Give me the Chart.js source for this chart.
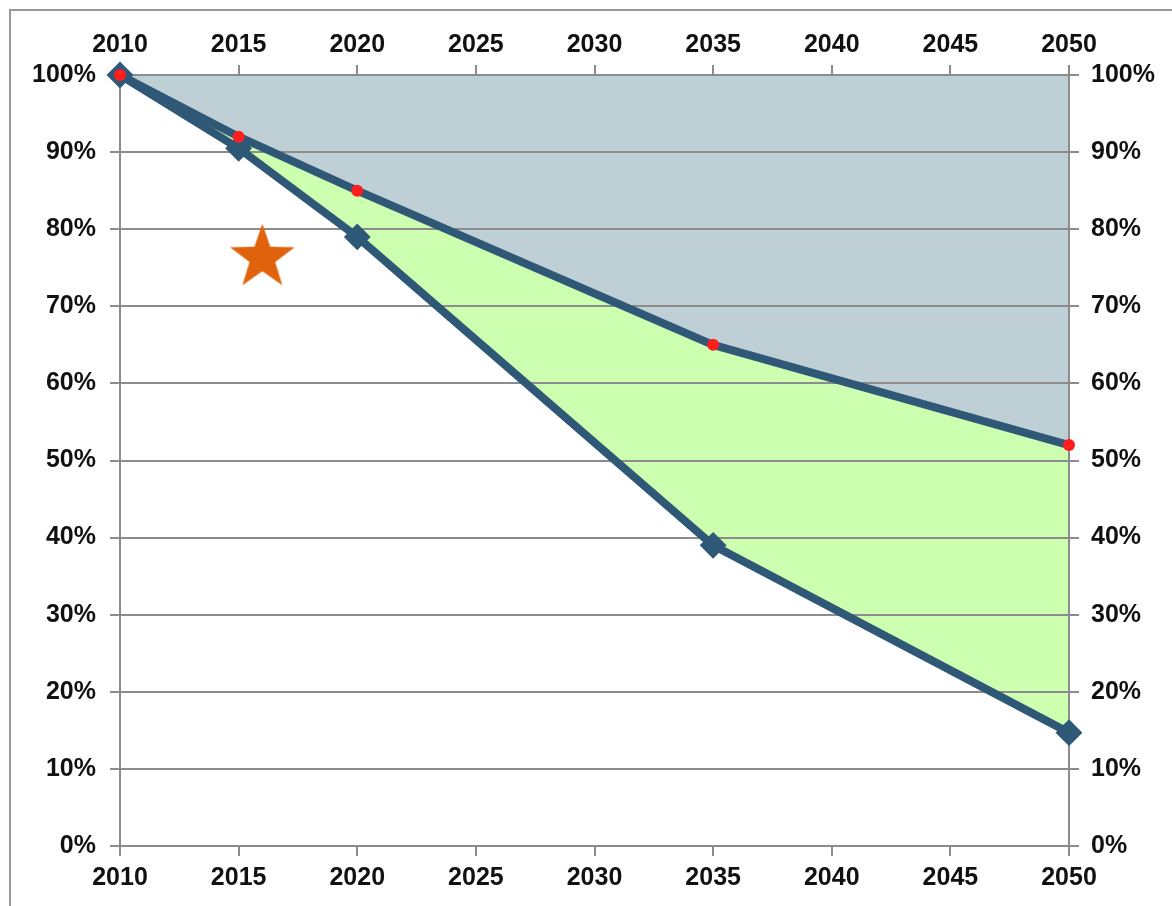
<!DOCTYPE html>
<html>
<head>
<meta charset="utf-8">
<script src="https://cdn.jsdelivr.net/npm/chart.js"></script>
<style>
    body { margin: 0; background: #fff; }
    #wrap { position: relative; width: 1172px; height: 906px; }
</style>
</head>
<body>
<div id="wrap"><canvas id="lineChart"></canvas></div>
<script>
//データ
var years = [2010, 2015, 2020, 2035, 2050];
var topValues = [100, 100, 100, 100, 100];
var upperValues = [100, 92, 85, 65, 52];
var lowerValues = [100, 90.5, 79, 39, 14.7];
var starX = [2016];
var starY = [76.3];
var yearTicks = [2010, 2015, 2020, 2025, 2030, 2035, 2040, 2045, 2050];

//点の配列を作る
function toPoints(xs, ys) {
    var pts = [];
    for (var i = 0; i < xs.length; i++) {
        pts.push({ x: xs[i], y: ys[i] });
    }
    return pts;
}

//星のマーカー
var star = document.createElement("canvas");
star.width = 72;
star.height = 72;
var sctx = star.getContext("2d");
sctx.beginPath();
for (var i = 0; i < 10; i++) {
    var r = i % 2 == 0 ? 34 : 13.5;
    var a = -Math.PI / 2 + i * Math.PI / 5;
    var px = 36 + r * Math.cos(a);
    var py = 36 + r * Math.sin(a);
    if (i == 0) sctx.moveTo(px, py); else sctx.lineTo(px, py);
}
sctx.closePath();
sctx.fillStyle = "#E0620A";
sctx.fill();

//外枠
var framePlugin = {
    id: "frame",
    beforeDraw: function (chart) {
        var c = chart.ctx;
        c.save();
        c.strokeStyle = "#999999";
        c.lineWidth = 2;
        c.beginPath();
        c.moveTo(10, 906);
        c.lineTo(10, 10);
        c.lineTo(1172, 10);
        c.stroke();
        c.restore();
    }
};

var tickFont = { family: "'Liberation Sans', Arial, sans-serif", size: 25, weight: "bold" };
var gridGray = "#8c8c8c";

function xAxis(pos, h, pad) {
    return {
        type: "linear",
        position: pos,
        min: 2010,
        max: 2050,
        afterBuildTicks: function (s) {
            s.ticks = yearTicks.map(function (v) { return { value: v }; });
        },
        afterFit: function (s) { s.height = h; },
        ticks: {
            color: "#111",
            font: tickFont,
            padding: pad,
            maxRotation: 0,
            autoSkip: false,
            callback: function (v) { return String(v); }
        },
        grid: { drawOnChartArea: false, drawTicks: true, tickLength: 10, color: gridGray, lineWidth: 2 },
        border: { display: true, color: gridGray, width: 2 }
    };
}

function yAxis(pos, w, onArea, pad) {
    return {
        type: "linear",
        position: pos,
        min: 0,
        max: 100,
        afterFit: function (s) { s.width = w; },
        ticks: {
            stepSize: 10,
            color: "#111",
            font: tickFont,
            padding: pad,
            callback: function (v) { return v + "%"; }
        },
        grid: { drawOnChartArea: onArea, drawTicks: true, tickLength: 10, color: gridGray, lineWidth: 2 },
        border: { display: true, color: gridGray, width: 2 }
    };
}

var ctx = document.getElementById("lineChart");
var myChart = new Chart(ctx, {
    type: "line",
    data: {
        datasets: [
            {
                data: toPoints(years, topValues),
                borderWidth: 0,
                borderColor: "rgba(0,0,0,0)",
                pointRadius: 0,
                fill: 1,
                backgroundColor: "#BECFD6",
                order: 4
            },
            {
                data: toPoints(years, upperValues),
                borderColor: "#2F5877",
                borderWidth: 8,
                pointRadius: 6,
                pointBorderWidth: 0,
                pointBackgroundColor: "#FF1E1E",
                fill: 2,
                backgroundColor: "#CCFFB0",
                clip: false,
                order: 2
            },
            {
                data: toPoints(years, lowerValues),
                borderColor: "#2F5877",
                borderWidth: 8,
                pointStyle: "rectRot",
                pointRadius: 12,
                pointBorderWidth: 2,
                pointBorderColor: "#2F5877",
                pointBackgroundColor: "#2F5877",
                fill: false,
                clip: false,
                order: 3
            },
            {
                type: "scatter",
                data: toPoints(starX, starY),
                pointStyle: star,
                pointRadius: 34,
                order: 1
            }
        ]
    },
    options: {
        responsive: true,
        maintainAspectRatio: false,
        animation: false,
        layout: { padding: 0 },
        elements: { line: { tension: 0 } },
        scales: {
            x: xAxis("bottom", 60, 7),
            x2: xAxis("top", 75, 5),
            y: yAxis("left", 120, true, 14),
            y2: yAxis("right", 103, false, 12)
        },
        plugins: {
            legend: { display: false },
            tooltip: { enabled: false },
            filler: { drawTime: "beforeDraw" }
        }
    },
    plugins: [framePlugin]
});
</script>
</body>
</html>
